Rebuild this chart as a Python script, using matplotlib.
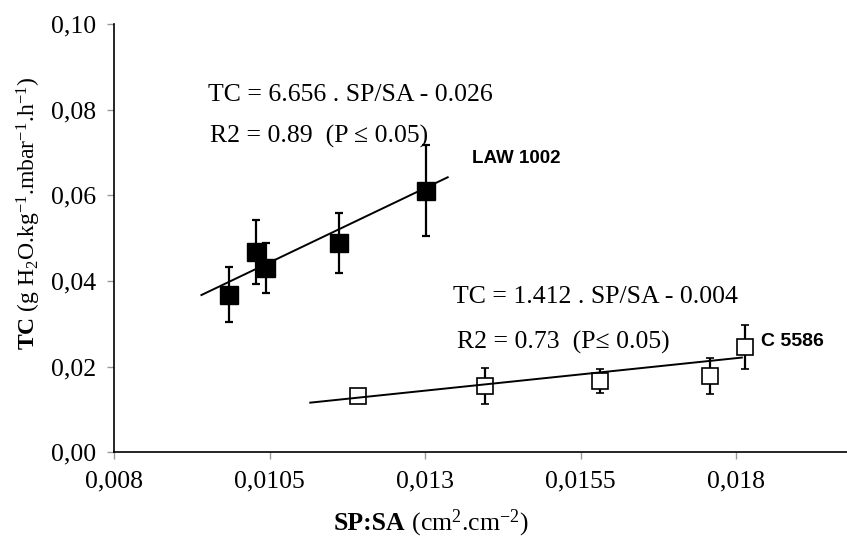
import matplotlib
matplotlib.use("Agg")
import matplotlib.pyplot as plt
from matplotlib.offsetbox import TextArea, HPacker, AnchoredOffsetbox
import numpy as np

# data
law_x = [0.00984, 0.01028, 0.01044, 0.01162, 0.01301]
law_y = [0.0367, 0.0468, 0.0430, 0.0488, 0.0611]
law_err_hi = [0.0433, 0.0543, 0.0488, 0.0558, 0.0718]
law_err_lo = [0.0303, 0.0392, 0.0371, 0.0418, 0.0506]
law_fit_x = [0.00940, 0.01336]
law_fit_y = [0.0367, 0.0642]

c_x = [0.01192, 0.01396, 0.01581, 0.01758, 0.01814]
c_y = [0.0132, 0.0155, 0.0166, 0.0179, 0.0246]
c_err_hi = [0.0140, 0.0197, 0.0195, 0.0221, 0.0297]
c_err_lo = [0.0124, 0.0113, 0.0138, 0.0136, 0.0194]
c_fit_x = [0.01115, 0.01809]
c_fit_y = [0.01157, 0.0221]

x_ticks = [0.008, 0.0105, 0.013, 0.0155, 0.018]
x_labels = ["0,008", "0,0105", "0,013", "0,0155", "0,018"]
y_ticks = [0.00, 0.02, 0.04, 0.06, 0.08, 0.10]
y_labels = ["0,00", "0,02", "0,04", "0,06", "0,08", "0,10"]

plt.rcParams['font.family'] = ['Liberation Serif', 'DejaVu Serif']
plt.rcParams['mathtext.fontset'] = 'custom'
plt.rcParams['mathtext.rm'] = 'Liberation Serif'
plt.rcParams['mathtext.bf'] = 'Liberation Serif:bold'
plt.rcParams['mathtext.it'] = 'Liberation Serif:italic'

FS = 18.5

fig = plt.figure(figsize=(8.47, 5.40), dpi=100)
ax = fig.add_axes([0.135, 0.1626, 0.865, 0.793])

def asym(y, hi, lo):
    y = np.array(y)
    return [y - np.array(lo), np.array(hi) - y]

ax.errorbar(law_x, law_y, yerr=asym(law_y, law_err_hi, law_err_lo), fmt='s',
            color='black', mfc='black', mec='black', ms=13, elinewidth=1.6,
            capsize=3, capthick=1.6, zorder=3)
ax.errorbar(c_x, c_y, yerr=asym(c_y, c_err_hi, c_err_lo), fmt='s',
            color='black', mfc='white', mec='black', mew=1.2, ms=12,
            elinewidth=1.6, capsize=3, capthick=1.6, zorder=3)
ax.plot(law_fit_x, law_fit_y, color='black', lw=1.4, zorder=4)
ax.plot(c_fit_x, c_fit_y, color='black', lw=1.4, zorder=4)

ax.set_xlim(0.008, 0.01978)
ax.set_ylim(0, 0.10)
ax.set_xticks(x_ticks)
ax.set_xticklabels(x_labels)
ax.set_yticks(y_ticks)
ax.set_yticklabels(y_labels)
ax.tick_params(axis='both', labelsize=FS, length=5, width=1, color='#999999',
               direction='out')
ax.tick_params(axis='x', pad=8)
ax.tick_params(axis='y', pad=8)
ax.spines['top'].set_visible(False)
ax.spines['right'].set_visible(False)
ax.spines['left'].set_linewidth(1.2)
ax.spines['bottom'].set_linewidth(1.2)

ax.set_ylabel(r"$\mathbf{TC}$ (g H$_2$O.kg$^{-1}$.mbar$^{-1}$.h$^{-1}$)",
              fontsize=17)
ax.yaxis.set_label_coords(-0.097, 0.558)

# x label: bold part + normal part side by side
lab_bold = TextArea("SP:SA", textprops=dict(fontsize=FS, fontweight='bold'))
lab_norm = TextArea(r" (cm$^2$.cm$^{-2}$)", textprops=dict(fontsize=FS))
xlab = HPacker(children=[lab_bold, lab_norm], align="baseline", pad=0, sep=0)
ax.add_artist(AnchoredOffsetbox(loc='center', child=xlab, frameon=False,
                                pad=0, borderpad=0,
                                bbox_to_anchor=(0.432, -0.165),
                                bbox_transform=ax.transAxes))

ax.text(0.009506, 0.08346, "TC = 6.656 . SP/SA - 0.026", fontsize=FS, va='center')
ax.text(0.009539, 0.07371, "R2 = 0.89  (P \u2264 0.05)", fontsize=FS, va='center')
ax.text(0.01375, 0.0687, "LAW 1002", fontsize=13.5, fontweight='bold',
        family='Liberation Sans', va='center')
ax.text(0.013446, 0.03633, "TC = 1.412 . SP/SA - 0.004", fontsize=FS, va='center')
ax.text(0.013505, 0.02558, "R2 = 0.73  (P\u2264 0.05)", fontsize=FS, va='center')
ax.text(0.018392, 0.02582, "C 5586", fontsize=14, fontweight='bold',
        family='Liberation Sans', va='center')

plt.savefig('out.png', dpi=100)
